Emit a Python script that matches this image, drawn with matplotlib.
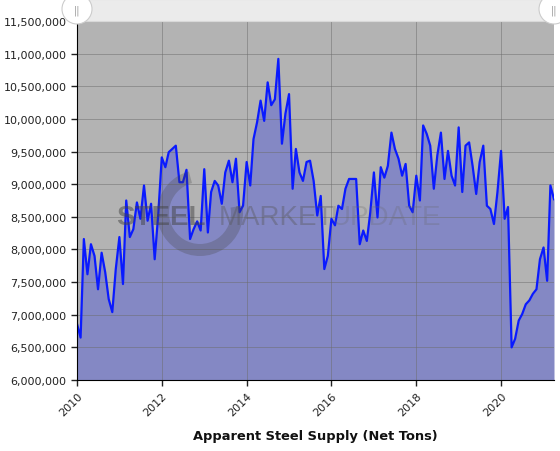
import matplotlib.pyplot as plt
import matplotlib.dates as mdates
from matplotlib.patches import Circle, Rectangle, Wedge
import numpy as np
import pandas as pd

# monthly apparent steel supply, millions of net tons, Jan 2010 - Apr 2021
supply_2010 = [6.86, 6.65, 8.16, 7.62, 8.08, 7.90, 7.39, 7.95, 7.65, 7.24, 7.04, 7.70]
supply_2011 = [8.19, 7.47, 8.75, 8.19, 8.31, 8.72, 8.47, 8.98, 8.44, 8.70, 7.85, 8.52]
supply_2012 = [9.41, 9.26, 9.49, 9.54, 9.59, 9.03, 9.03, 9.22, 8.16, 8.31, 8.43, 8.29]
supply_2013 = [9.23, 8.26, 8.88, 9.05, 8.98, 8.70, 9.18, 9.36, 9.03, 9.39, 8.57, 8.67]
supply_2014 = [9.34, 8.98, 9.69, 9.95, 10.28, 9.97, 10.56, 10.21, 10.30, 10.92, 9.62, 10.08]
supply_2015 = [10.38, 8.93, 9.54, 9.18, 9.05, 9.34, 9.36, 9.05, 8.52, 8.82, 7.70, 7.90]
supply_2016 = [8.47, 8.37, 8.67, 8.62, 8.93, 9.08, 9.08, 9.08, 8.08, 8.29, 8.13, 8.57]
supply_2017 = [9.18, 8.49, 9.26, 9.10, 9.28, 9.79, 9.54, 9.39, 9.13, 9.31, 8.67, 8.57]
supply_2018 = [9.13, 8.75, 9.90, 9.77, 9.59, 8.93, 9.44, 9.79, 9.08, 9.51, 9.13, 8.98]
supply_2019 = [9.87, 8.88, 9.59, 9.64, 9.28, 8.85, 9.34, 9.59, 8.67, 8.62, 8.39, 8.88]
supply_2020 = [9.51, 8.47, 8.65, 6.50, 6.63, 6.91, 7.01, 7.16, 7.22, 7.32, 7.39, 7.85]
supply_2021 = [8.03, 7.52, 8.98, 8.77]

values = np.array(supply_2010 + supply_2011 + supply_2012 + supply_2013 + supply_2014 +
                  supply_2015 + supply_2016 + supply_2017 + supply_2018 + supply_2019 +
                  supply_2020 + supply_2021) * 1e6
months = pd.date_range('2010-01-01', periods=len(values), freq='MS')
year_ticks = [pd.Timestamp(f'{y}-01-01') for y in range(2010, 2021, 2)]

fig = plt.figure(figsize=(5.6, 4.52), dpi=100)
ax = fig.add_axes([77 / 560, 1 - 381 / 452, 477 / 560, 359 / 452])
ax.set_facecolor('#b3b3b3')

ax.fill_between(months, values, 6e6, color='#8488c4', lw=0, zorder=2)
ax.plot(months, values, color='#0a1aff', lw=1.6, solid_joinstyle='round', zorder=4)

ax.set_xlim(months[0], months[-1])
ax.set_ylim(6e6, 11.5e6)
ax.set_yticks(np.arange(6e6, 11.5e6 + 1, 5e5))
ax.yaxis.set_major_formatter(plt.FuncFormatter(lambda v, p: f'{v:,.0f}'))
ax.set_xticks(year_ticks)
ax.xaxis.set_major_formatter(mdates.DateFormatter('%Y'))
plt.setp(ax.get_xticklabels(), rotation=45, ha='right', rotation_mode='anchor')
ax.tick_params(labelsize=8, colors='#222222', length=4, width=1)
ax.grid(True, color='#6e6e6e', lw=0.6, alpha=0.6, zorder=3)
ax.set_axisbelow(False)
for s in ['top', 'right']:
    ax.spines[s].set_visible(False)
for s in ['left', 'bottom']:
    ax.spines[s].set_color('black')
    ax.spines[s].set_zorder(5)

fig.text(315 / 560, 1 - 437 / 452, 'Apparent Steel Supply (Net Tons)', fontsize=9.4,
         fontweight='bold', ha='center', va='center', color='#111111')

# watermark and scrollbar overlay
ov = fig.add_axes([0, 0, 1, 1], zorder=10)
ov.set_xlim(0, 560)
ov.set_ylim(452, 0)
ov.axis('off')
ov.patch.set_alpha(0)
ov.add_patch(Wedge((200, 214), 43, -10, 255, width=12, color='#444444', alpha=0.28, lw=0))
wm = dict(fontsize=20, family='Liberation Sans', va='center')
ov.text(116, 218, 'STEEL', fontweight='bold', color='#444444', alpha=0.5, **wm)
ov.text(219, 218, 'MARKET', color='#555555', alpha=0.38, **wm)
ov.text(331, 218, 'UPDATE', color='#666666', alpha=0.25, **wm)
ov.add_patch(Rectangle((77, 0), 477, 22, facecolor='#ebebeb', edgecolor='#d8d8d8', lw=0.8))
for cx in (77, 554):
    ov.add_patch(Circle((cx, 10), 15, facecolor='white', edgecolor='#cccccc', lw=0.8))
    ov.text(cx, 11, '||', fontsize=7, color='#999999', ha='center', va='center')

fig.savefig('out.png', dpi=100)
